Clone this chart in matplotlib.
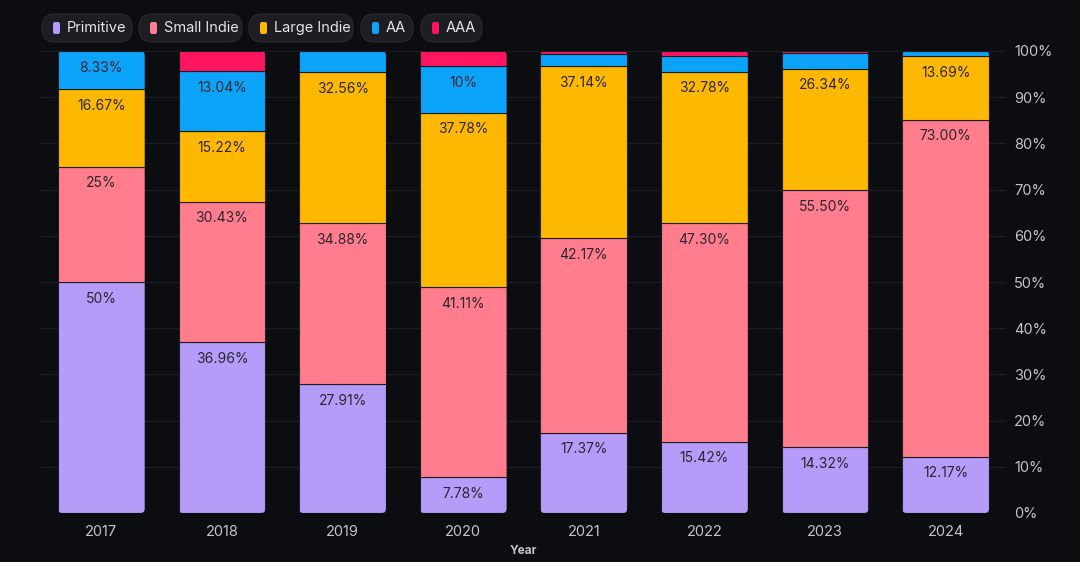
import matplotlib.pyplot as plt
import numpy as np
from matplotlib.patches import FancyBboxPatch

plt.rcParams["font.family"] = ["Inter", "DejaVu Sans"]

years = ["2017", "2018", "2019", "2020", "2021", "2022", "2023", "2024"]
series = ["Primitive", "Small Indie", "Large Indie", "AA", "AAA"]
primitive = [50.0, 36.96, 27.91, 7.78, 17.37, 15.42, 14.32, 12.17]
small_indie = [25.0, 30.43, 34.88, 41.11, 42.17, 47.30, 55.50, 73.00]
large_indie = [16.67, 15.22, 32.56, 37.78, 37.14, 32.78, 26.34, 13.69]
aa = [8.33, 13.04, 4.65, 10.0, 2.6, 3.5, 3.5, 1.14]
aaa = [0.0, 4.35, 0.0, 3.33, 0.72, 1.0, 0.34, 0.0]
# labels as shown (None = not labelled)
labels = {
    "Primitive": ["50%", "36.96%", "27.91%", "7.78%", "17.37%", "15.42%", "14.32%", "12.17%"],
    "Small Indie": ["25%", "30.43%", "34.88%", "41.11%", "42.17%", "47.30%", "55.50%", "73.00%"],
    "Large Indie": ["16.67%", "15.22%", "32.56%", "37.78%", "37.14%", "32.78%", "26.34%", "13.69%"],
    "AA": ["8.33%", "13.04%", None, "10%", None, None, None, None],
    "AAA": [None] * 8,
}
colors = ["#b59cf8", "#ff7d8d", "#ffb800", "#0ca3fb", "#ff1560"]

bg = "#0c0d11"
fig = plt.figure(figsize=(10.8, 5.62), dpi=100, facecolor=bg)
ax = fig.add_axes([41 / 1080, 49 / 562, 965 / 1080, 462 / 562])
ax.set_facecolor(bg)

x = np.arange(len(years))
width = 0.72
values = [primitive, small_indie, large_indie, aa, aaa]
bottom = np.zeros(len(years))

# rounded clip shapes, one per stack
aspect = (1 / 4.62) / (1 / 120.6)
clips = []
for i in range(len(years)):
    p = FancyBboxPatch((x[i] - width / 2, 0), width, 100,
                       boxstyle="round,pad=0,rounding_size=0.035",
                       mutation_aspect=aspect, transform=ax.transData,
                       facecolor="none", edgecolor="none")
    ax.add_patch(p)
    clips.append(p)

for name, vals, col in zip(series, values, colors):
    bars = ax.bar(x, vals, width, bottom=bottom, color=col,
                  edgecolor="#1c1c22", linewidth=0.8, label=name, zorder=3)
    for i, b in enumerate(bars):
        b.set_clip_path(clips[i])
        lab = labels[name][i]
        if lab and vals[i] > 0:
            ax.annotate(lab, (x[i], bottom[i] + vals[i]), xytext=(0, -12),
                        textcoords="offset points", ha="center", va="center",
                        fontsize=10, color="#2a2630", zorder=4)
    bottom += np.array(vals)

ax.set_xlim(-0.5, 7.5)
ax.set_ylim(0, 100)
ax.set_yticks(range(0, 101, 10))
ax.set_yticklabels([f"{v}%" for v in range(0, 101, 10)])
ax.yaxis.tick_right()
ax.set_xticks(x)
ax.set_xticklabels(years)
ax.tick_params(axis="both", length=0, colors="#c4c4c8", labelsize=10.5)
ax.tick_params(axis="y", pad=6)
ax.tick_params(axis="x", pad=9)
ax.grid(axis="y", color="#1d1e24", linewidth=0.9, zorder=0)
for s in ax.spines.values():
    s.set_visible(False)
ax.set_xlabel("Year", color="#c4c4c8", fontsize=8.5, fontweight="bold", labelpad=4)

# pill legend
pills = [(42, 132), (139, 242), (249, 353), (361, 413), (421, 482)]
for (l, r), name, col in zip(pills, series, colors):
    fig.patches.append(FancyBboxPatch((l / 1080, 1 - 42 / 562), (r - l) / 1080, 28 / 562,
                                      boxstyle="round,pad=0,rounding_size=0.012",
                                      mutation_aspect=1080 / 562,
                                      transform=fig.transFigure, facecolor="#1d1e23",
                                      edgecolor="#2a2b31", linewidth=0.8))
    fig.patches.append(FancyBboxPatch(((l + 11) / 1080, 1 - 34 / 562), 7 / 1080, 12 / 562,
                                      boxstyle="round,pad=0,rounding_size=0.002",
                                      mutation_aspect=1080 / 562,
                                      transform=fig.transFigure, facecolor=col,
                                      edgecolor="none"))
    fig.text((l + 25) / 1080, 1 - 28 / 562, name, color="#e4e4e8", fontsize=10.5,
             ha="left", va="center")

fig.savefig("out.png", dpi=100, facecolor=bg)
